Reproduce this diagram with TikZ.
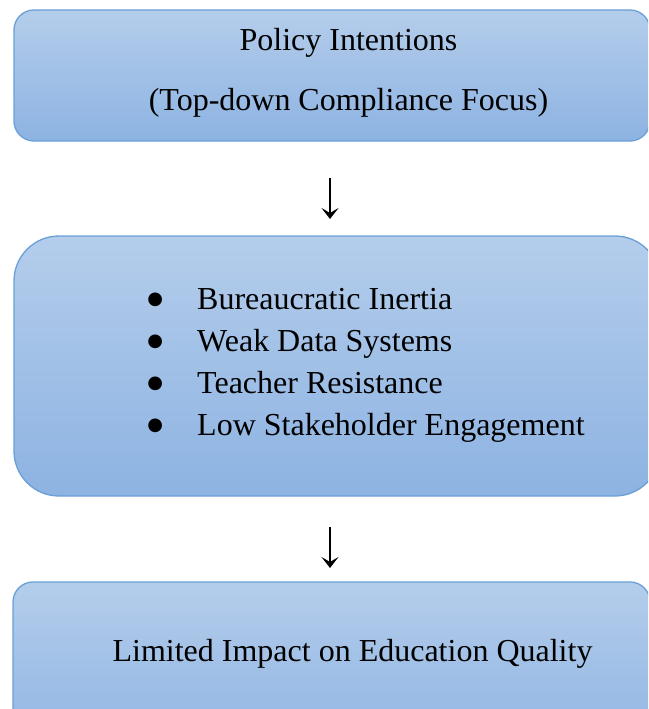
\documentclass[tikz,border=0pt]{standalone}
\usepackage{fontspec}
\setmainfont{Liberation Serif}
\newfontfamily\markfont{DejaVu Sans}
\usetikzlibrary{arrows.meta}

\definecolor{boxtop}{HTML}{B4CDEB}
\definecolor{boxbottom}{HTML}{8DB3E2}
\definecolor{boxline}{HTML}{6A9FD8}

\tikzset{
  stagebox/.style={draw=boxline, line width=1.3pt, top color=boxtop, bottom color=boxbottom,
    inner sep=0pt, outer sep=0pt},
  label text/.style={font=\fontsize{32}{42}\selectfont, text=black, inner sep=0pt, anchor=base},
  bullet mark/.style={font=\markfont\fontsize{18}{18}\selectfont, text=black, inner sep=0pt, anchor=center},
  flowarrow/.style={line width=2pt, -{Stealth[length=11pt,width=17pt,inset=5pt]}},
}

\begin{document}
\begin{tikzpicture}[x=1pt,y=-1pt]
  \useasboundingbox (0,0) rectangle (648,709);
  \clip (0,0) rectangle (648,709);

  % three stages of the flow
  \node[stagebox, rounded corners=20pt, minimum width=636pt, minimum height=131pt] (policy) at (332,75.5) {};
  \node[stagebox, rounded corners=45pt, minimum width=646pt, minimum height=260pt] (barriers) at (337,366) {};
  \node[stagebox, rounded corners=20pt, minimum width=637pt, minimum height=178pt] (impact) at (331.5,671) {};

  % top stage text
  \node[label text] (pol1) at (348.5,51) {Policy Intentions};
  \node[label text] (pol2) at (348.5,110) {(Top-down Compliance Focus)};

  % barriers list
  \node[bullet mark] (b1) at (155.3,299.7) {●};
  \node[bullet mark] (b2) at (155.3,341.7) {●};
  \node[bullet mark] (b3) at (155.3,383.7) {●};
  \node[bullet mark] (b4) at (155.3,425.7) {●};
  \node[label text, anchor=base west] (t1) at (197,309.5) {Bureaucratic Inertia};
  \node[label text, anchor=base west] (t2) at (197,351.5) {Weak Data Systems};
  \node[label text, anchor=base west] (t3) at (197,393.5) {Teacher Resistance};
  \node[label text, anchor=base west] (t4) at (197,435.5) {Low Stakeholder Engagement};

  % outcome text
  \node[label text] (imp) at (352.5,661) {Limited Impact on Education Quality};

  % connectors
  \draw[flowarrow, shorten <=37pt, shorten >=17pt] ([xshift=-2pt]policy.south) -- ([xshift=-7pt]barriers.north);
  \draw[flowarrow, shorten <=31pt, shorten >=14pt] ([xshift=-7pt]barriers.south) -- ([xshift=-1.5pt]impact.north);
\end{tikzpicture}
\end{document}
